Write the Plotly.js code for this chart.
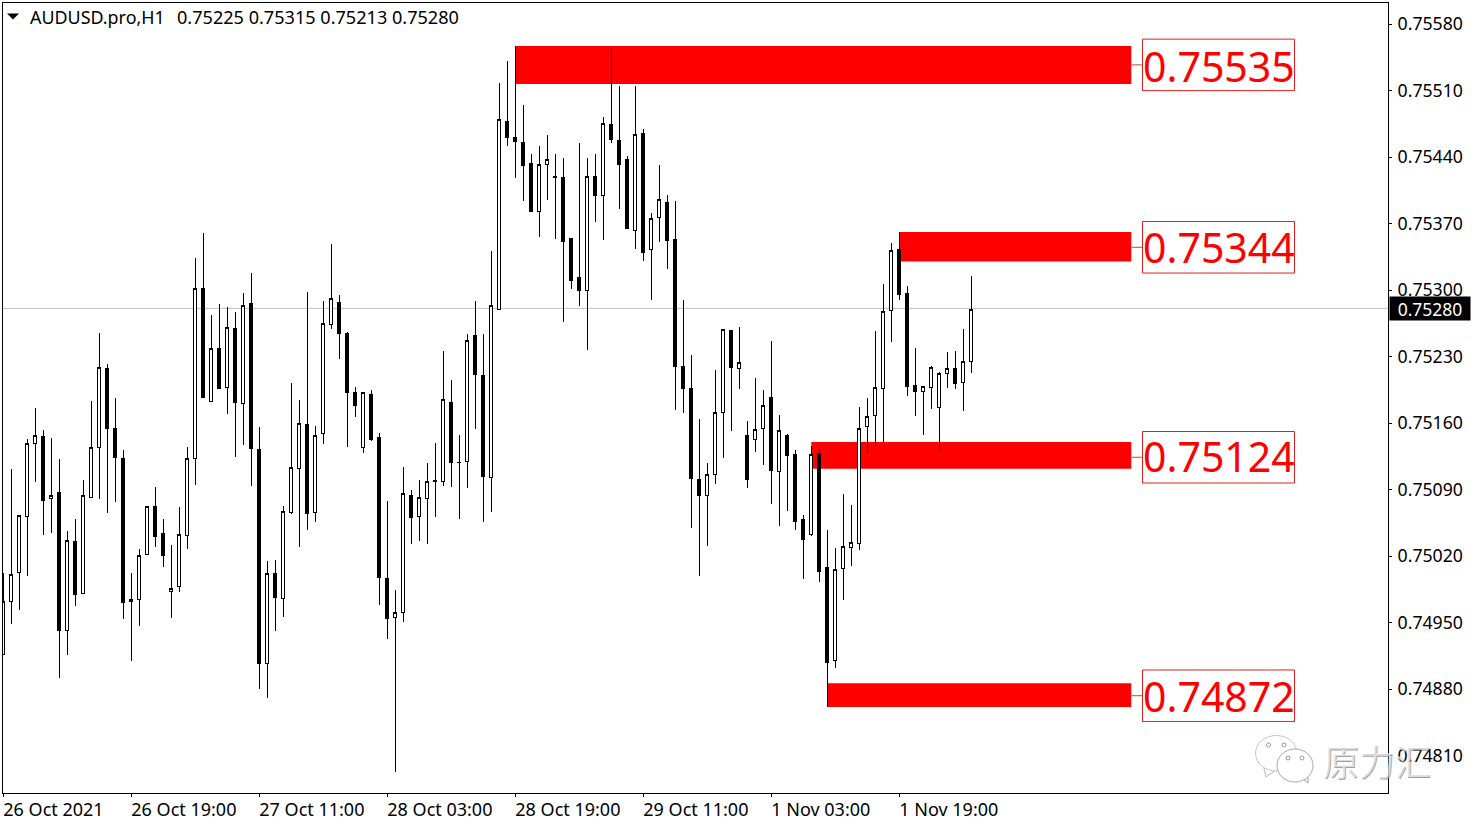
<!DOCTYPE html>
<html>
<head>
<meta charset="utf-8">
<script src="https://cdn.plot.ly/plotly-3.0.1.min.js"></script>
<style>html,body{margin:0;padding:0;background:#fff;overflow:hidden}#chart{width:1480px;height:826px}
.boxlayer path{shape-rendering:crispEdges}</style>
</head>
<body>
<div id="chart"></div>
<script>
// Prices in 1/100000 units
const opens = [74916,74972,75003,75062,75139,75146,75081,75087,74942,75035,74981,75082,75134,75217,75154,75123,74972,74974,75022,75072,75044,74983,74988,75042,75123,75302,75183,75239,75197,75259,75181,75286,75132,74907,75002,74975,75066,75112,75158,75066,75149,75264,75287,75254,75192,75134,75190,75145,74996,74955,74961,75084,75062,75081,75100,75098,75182,75119,75120,75252,75210,75103,75280,75477,75461,75455,75433,75383,75432,75420,75418,75354,75313,75300,75420,75399,75474,75457,75437,75363,75465,75343,75376,75392,75353,75220,75196,75101,75084,75106,75171,75257,75217,75147,75143,75154,75187,75109,75147,75127,75058,75043,75128,75008,74910,75007,75029,75033,75156,75168,75196,75278,75343,75296,75200,75193,75197,75176,75212,75217,75203,75225];
const highs = [75002,75112,75063,75143,75176,75153,75144,75122,75046,75059,75100,75183,75255,75222,75186,75132,75002,75027,75072,75093,75059,75032,75072,75135,75334,75360,75274,75285,75282,75277,75297,75318,75156,75015,75016,75073,75202,75184,75298,75157,75288,75348,75295,75256,75198,75192,75195,75150,75078,74984,75114,75090,75100,75118,75139,75236,75205,75147,75254,75288,75254,75341,75518,75541,75557,75495,75443,75452,75463,75443,75439,75354,75455,75439,75443,75482,75554,75515,75441,75515,75469,75381,75432,75400,75394,75290,75232,75164,75118,75216,75258,75258,75261,75162,75207,75195,75246,75168,75149,75132,75063,75136,75133,75047,75028,75085,75074,75177,75186,75257,75306,75350,75361,75304,75239,75198,75220,75214,75235,75236,75259,75315];
const lows = [74916,74948,74963,74999,75098,75042,75044,74892,74916,74967,74981,75082,75080,75065,75077,74954,74910,74946,75022,75030,75008,74955,74982,75027,75095,75186,75182,75196,75170,75124,75137,75094,74880,74871,74941,74956,75064,75030,75047,75056,75138,75259,75227,75135,75166,75129,75141,74968,74933,74793,74951,75033,75036,75033,75061,75094,75093,75059,75092,75154,75056,75066,75280,75452,75418,75394,75383,75356,75395,75354,75266,75301,75283,75237,75372,75353,75455,75385,75364,75343,75331,75290,75351,75322,75174,75171,75050,74999,75031,75096,75123,75152,75196,75092,75130,75116,75075,75052,75067,75047,74996,75041,74993,74861,74902,74974,75010,75026,75127,75135,75140,75245,75290,75188,75167,75147,75175,75131,75197,75196,75173,75213];
const closes = [74972,75001,75063,75138,75147,75078,75084,74942,75036,74980,75084,75134,75218,75154,75124,74971,74974,75021,75072,75041,75021,74986,75043,75123,75302,75187,75238,75196,75261,75182,75284,75133,74907,75002,74976,75067,75113,75160,75065,75147,75265,75291,75254,75192,75178,75192,75143,74997,74954,74961,75086,75061,75082,75099,75098,75185,75118,75118,75247,75211,75104,75284,75479,75461,75456,75431,75383,75432,75437,75418,75351,75310,75299,75420,75400,75475,75458,75432,75365,75464,75339,75375,75395,75352,75220,75196,75102,75084,75106,75171,75258,75219,75224,75101,75153,75178,75110,75152,75126,75056,75037,75127,75004,74908,75006,75030,75034,75154,75167,75197,75277,75342,75295,75198,75193,75198,75218,75212,75217,75202,75225,75280];

const priceTicks = [75580,75510,75440,75370,75300,75230,75160,75090,75020,74950,74880,74810];
const timeTickBars = [0,16,32,48,64,80,96,112];
const timeTickLabels = ['26 Oct 2021','26 Oct 19:00','27 Oct 11:00','28 Oct 03:00','28 Oct 19:00','29 Oct 11:00','1 Nov 03:00','1 Nov 19:00'];

// Red zones
const zoneStartBar = [64,112,101,103];
const zoneEndBar = 141;
const zoneTop = [75557,75361,75140,74886];
const zoneBottom = [75517,75330,75112,74861];
const zoneValues = [75535,75344,75124,74872];
const zoneLabelLevel = [75537,75345,75124,74873];

const lastPrice = 75280;
const symbolTitle = 'AUDUSD.pro,H1';
const ohlcTitle = '0.75225 0.75315 0.75213 0.75280';
const watermark = '原力汇';

const FONT = '"Noto Sans", sans-serif';
const p = v => v / 100000;
const L = 3, R = 1388, T = 3, B = 793;
const barAt = px => (px - 3.3) / 8;
const px = x => (x - L) / (R - L);
const py = y => 1 - (y - T) / (B - T);
const pricePerPx = 1.0526;

function ellipse(x0, y0, x1, y1, fill, line) {
  return {type:'circle', xref:'paper', yref:'paper', x0:px(x0), x1:px(x1), y0:py(y0), y1:py(y1),
    fillcolor:fill, line:{color:line, width:1}, layer:'above'};
}
function poly(points, fill, line) {
  const d = points.map((q,i)=>(i?'L':'M')+px(q[0])+','+py(q[1])).join(' ')+' Z';
  return {type:'path', xref:'paper', yref:'paper', path:d, fillcolor:fill, line:{color:line, width:line==='rgba(0,0,0,0)'?0:1}, layer:'above'};
}

const shapes = [];
zoneTop.forEach((t,i) => {
  shapes.push({type:'rect', xref:'x', yref:'y', x0:zoneStartBar[i], x1:zoneEndBar, y0:p(t), y1:p(zoneBottom[i]),
    fillcolor:'#ff0000', line:{width:0}, layer:'below'});
  shapes.push({type:'line', xref:'x', yref:'y', x0:zoneEndBar, x1:barAt(1143), y0:p(zoneLabelLevel[i]), y1:p(zoneLabelLevel[i]),
    line:{color:'#d04040', width:1}, layer:'below'});
  shapes.push({type:'rect', xref:'x', yref:'y', x0:barAt(1142.5), x1:barAt(1294.5),
    y0:p(zoneLabelLevel[i]-25.75*pricePerPx), y1:p(zoneLabelLevel[i]+25.75*pricePerPx),
    fillcolor:'rgba(0,0,0,0)', line:{color:'#e02020', width:1}, layer:'below'});
});
shapes.push({type:'line', xref:'x', yref:'y', x0:barAt(L), x1:barAt(R), y0:p(lastPrice+0.7), y1:p(lastPrice+0.7),
  line:{color:'#c0c0c0', width:1}, layer:'below'});
shapes.push(poly([[7,13.5],[19,13.5],[13,19.5]], '#000', 'rgba(0,0,0,0)'));
// WeChat-style watermark icon
shapes.push(poly([[1263,764],[1266,777],[1276,770]], '#fff', '#b8b8b8'));
shapes.push(ellipse(1255.5,735.5,1297,771,'#fff','#c4c4c4'));
shapes.push(poly([[1298,775],[1308,783],[1308,770]], '#fff', '#a0a0a0'));
shapes.push(ellipse(1277,749,1313,782,'#fff','#a8a8a8'));
[[1268.5,745],[1284,745],[1288,758],[1302,758]].forEach(e => shapes.push(ellipse(e[0]-2,e[1]-2,e[0]+2,e[1]+2,'#fff','#999')));

const annotations = zoneValues.map(v => ({
  xref:'x', yref:'y', x:barAt(1218.5), y:p(v), text:'0.'+v, showarrow:false, yshift:1,
  font:{family:FONT, size:41, color:'#ff0000'}, borderpad:0, xanchor:'center', yanchor:'middle'
}));
annotations.push({xref:'paper', yref:'paper', x:px(29), y:py(17), xanchor:'left', yanchor:'middle', showarrow:false,
  text:symbolTitle, font:{family:FONT, size:17.9, color:'#000'}, borderpad:0});
annotations.push({xref:'paper', yref:'paper', x:px(175.5), y:py(17), xanchor:'left', yanchor:'middle', showarrow:false,
  text:ohlcTitle, font:{family:FONT, size:18.1, color:'#000'}, borderpad:0});
annotations.push({xref:'paper', yref:'y', x:px(1430), y:p(lastPrice), xanchor:'center', yanchor:'middle', showarrow:false, yshift:1,
  text:'0.'+lastPrice, font:{family:FONT, size:17.5, color:'#fff'}, bgcolor:'#000', width:80, height:23, borderpad:0});
annotations.push({xref:'paper', yref:'paper', x:px(1377), y:py(760), xanchor:'center', yanchor:'middle', showarrow:false,
  text:watermark, font:{family:'"Noto Sans CJK SC"', size:36, color:'rgba(255,255,255,0.65)', shadow:'0.7px 0.7px 0.6px #666'}, borderpad:0});

const trace = {
  type:'candlestick',
  x: opens.map((_,i)=>i),
  open: opens.map(p), high: highs.map(p), low: lows.map(p), close: closes.map(p),
  increasing:{line:{color:'#000', width:1}, fillcolor:'#fff'},
  decreasing:{line:{color:'#000', width:1}, fillcolor:'#000'},
  whiskerwidth:0, hoverinfo:'skip'
};

const layout = {
  width:1480, height:826, autosize:false,
  margin:{l:L, r:1480-R, t:T, b:826-B, pad:0},
  paper_bgcolor:'#fff', plot_bgcolor:'#fff', showlegend:false, hovermode:false, boxgap:0.42,
  font:{family:FONT, size:17.5, color:'#000'},
  xaxis:{type:'linear', range:[barAt(L),barAt(R)], rangeslider:{visible:false}, showgrid:false, zeroline:false,
    tickmode:'array', tickvals:timeTickBars, ticktext:timeTickLabels, ticks:'outside', ticklen:3, tickcolor:'#000', tickwidth:1,
    showline:true, linecolor:'#000', linewidth:1, mirror:true, ticklabelposition:'outside right', ticklabelshift:-1, ticklabelstandoff:0,
    tickfont:{family:FONT, size:18, color:'#000'}, fixedrange:true},
  yaxis:{type:'linear', side:'right', range:[p(75605.3-pricePerPx*B), p(75605.3-pricePerPx*T)], showgrid:false, zeroline:false,
    tickmode:'array', tickvals:priceTicks.map(p), ticktext:priceTicks.map(v=>'0.'+v), ticks:'outside', ticklen:3, tickcolor:'#000', tickwidth:1,
    showline:true, linecolor:'#000', linewidth:1, mirror:true, ticklabelstandoff:2,
    tickfont:{family:FONT, size:17.7, color:'#000'}, fixedrange:true},
  shapes, annotations
};
Plotly.newPlot('chart',[trace],layout,{displayModeBar:false, staticPlot:true});
</script>
</body>
</html>
